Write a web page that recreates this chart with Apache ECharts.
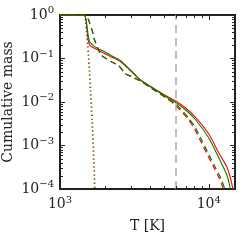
<!DOCTYPE html>
<html><head><meta charset="utf-8">
<script src="https://cdn.jsdelivr.net/npm/echarts@6/dist/echarts.min.js"></script>
<style>html,body{margin:0;padding:0;background:#fff}#c{width:250px;height:250px}</style>
</head><body><div id="c"></div>
<script>
// ---- data ----
const xMin = 1000, xMax = 15000, yMin = 1e-4, yMax = 1;
const vLineT = 6000;

const solidGreenT = [1000,1453,1487,1506,1546,1587,1671,1806,2005,2177,2543,2972,3472,4384,5122,5984,6991,8170,10000,11685,13230,13975,14083];
const solidGreenM = [1,0.984,0.853,0.690,0.347,0.239,0.201,0.168,0.141,0.120,0.090,0.0544,0.0320,0.0189,0.0134,0.00974,0.00655,0.00386,0.00149,0.000516,0.00021,0.0001,0.0000853];

const solidRedT = [1000,1453,1487,1506,1546,1587,1716,2005,2177,2543,2972,3472,4384,5122,5984,6991,8170,10000,11685,13230,13975,14527,14640];
const solidRedM = [1,0.984,0.831,0.621,0.266,0.201,0.170,0.129,0.111,0.0853,0.0530,0.0320,0.0194,0.0141,0.01054,0.00728,0.00440,0.00184,0.000672,0.000320,0.000179,0.0001,0.0000853];

const dashGreenT = [1000,1498,1546,1587,1671,1697,1792,1901,2055,2281,2466,2737,3032,3365,3472,4384,5122,5984,6470,7328,8170,9066,10047,11149,12054,12830,13026];
const dashGreenM = [1,0.984,0.822,0.631,0.372,0.285,0.174,0.1185,0.0990,0.0800,0.0698,0.0457,0.0382,0.0320,0.0304,0.0179,0.0127,0.0090,0.0069,0.00429,0.00249,0.00122,0.000605,0.000299,0.000176,0.0001,0.0000853];

const dashRedT = [1000,1498,1546,1587,1671,1697,1792,1901,2055,2281,2466,2737,3032,3365,3472,4384,5122,5846,6321,7157,7980,8857,9815,10894,11774,12531,12726];
const dashRedM = [1,0.984,0.822,0.631,0.372,0.285,0.174,0.1185,0.0990,0.0800,0.0698,0.0457,0.0382,0.0320,0.0304,0.0179,0.0127,0.0090,0.0069,0.00429,0.00249,0.00122,0.000605,0.000299,0.000176,0.0001,0.0000853];

const dotGreenT = [1000,1453,1475,1506,1529,1546,1570,1595,1637,1679,1705,1710];
const dotGreenM = [1,0.984,0.767,0.407,0.201,0.1185,0.0536,0.0189,0.00386,0.000464,0.000105,0.0000853];
const dotRedT = [1000,1453,1489,1520,1543,1561,1585,1610,1652,1695,1721,1726];
const dotRedM = [1,0.984,0.767,0.407,0.201,0.1185,0.0536,0.0189,0.00386,0.000464,0.000105,0.0000853];

const xMinorTicks = [2000,3000,4000,5000,6000,7000,8000,9000];
const yMinorTicks = [];
[1e-4,1e-3,1e-2,1e-1].forEach(d => { for (let k = 2; k <= 9; k++) yMinorTicks.push(+(d*k).toPrecision(3)); });

// ---- chart ----
const FONT = '"DejaVu Serif", "Liberation Serif", serif';
const AX = '#222';
const RED = '#ff0000', GREEN = '#008000';
const zip = (a, b) => a.map((v, i) => [v, b[i]]);

function fmt(v) {
  const e = Math.log10(v);
  const r = Math.round(e);
  if (Math.abs(e - r) > 1e-6) return '';
  return '{b|10}{s|' + (r < 0 ? '\u2212' + (-r) : r) + '}';
}
const rich = {
  b: { fontSize: 14, fontFamily: FONT, color: '#222' },
  s: { fontSize: 10, fontFamily: FONT, color: '#222', padding: [0, 0, 9, 0] }
};

function axisCommon(show) {
  return {
    type: 'log', logBase: 10,
    axisLine: { show: true, lineStyle: { color: AX, width: 2 } },
    axisTick: { show: true, inside: true, length: 5, lineStyle: { color: AX, width: 1 } },
    splitLine: { show: false },
    axisLabel: show ? { fontFamily: FONT, formatter: fmt, rich: rich, margin: 6 } : { show: false }
  };
}

function line(name, t, m, color, type, width) {
  return {
    name, type: 'line', data: zip(t, m), showSymbol: false, symbol: 'none',
    smooth: 0.25, clip: true, z: 3,
    lineStyle: { color, width, type }
  };
}

function tickSeries(data, isX) {
  return {
    type: 'custom', coordinateSystem: 'cartesian2d', data, silent: true, z: 10, clip: false,
    renderItem: function (params, api) {
      const cs = params.coordSys;
      const p = api.coord([api.value(0), api.value(1)]);
      const L = 3, st = { stroke: AX, lineWidth: 1 };
      if (isX) {
        const x = Math.round(p[0]) + 0.5, yb = cs.y + cs.height, yt = cs.y;
        return { type: 'group', children: [
          { type: 'line', shape: { x1: x, y1: yb, x2: x, y2: yb - L }, style: st },
          { type: 'line', shape: { x1: x, y1: yt, x2: x, y2: yt + L }, style: st }
        ]};
      } else {
        const y = Math.round(p[1]) + 0.5, xl = cs.x, xr = cs.x + cs.width;
        return { type: 'group', children: [
          { type: 'line', shape: { x1: xl, y1: y, x2: xl + L, y2: y }, style: st },
          { type: 'line', shape: { x1: xr, y1: y, x2: xr - L, y2: y }, style: st }
        ]};
      }
    }
  };
}

const chart = echarts.init(document.getElementById('c'), null, { renderer: 'canvas' });
chart.setOption({
  animation: false,
  backgroundColor: '#fff',
  grid: { left: 60, right: 15, top: 15, bottom: 61, containLabel: false, outerBoundsMode: 'none' },
  xAxis: [
    Object.assign(axisCommon(true), {
      min: xMin, max: xMax, position: 'bottom',
      name: 'T [K]', nameLocation: 'middle', nameGap: 30, nameMoveOverlap: false,
      nameTextStyle: { fontFamily: FONT, fontSize: 14, color: '#222' }
    }),
    Object.assign(axisCommon(false), { min: xMin, max: xMax, position: 'top' })
  ],
  yAxis: [
    Object.assign(axisCommon(true), {
      min: yMin, max: yMax, position: 'left',
      name: 'Cumulative mass', nameLocation: 'middle', nameGap: 45, nameMoveOverlap: false,
      nameTextStyle: { fontFamily: FONT, fontSize: 14, color: '#222' }
    }),
    Object.assign(axisCommon(false), { min: yMin, max: yMax, position: 'right' })
  ],
  series: [
    Object.assign(line('dotRed', dotRedT, dotRedM, RED, [1, 3], 1.3), {
      markLine: {
        silent: true, symbol: 'none', label: { show: false },
        lineStyle: { color: '#aaa', type: [8, 5], width: 1.5 },
        data: [{ xAxis: vLineT }]
      }
    }),
    line('dotGreen', dotGreenT, dotGreenM, GREEN, [1, 3], 1.3),
    line('dashRed', dashRedT, dashRedM, RED, [6, 4], 1.2),
    line('dashGreen', dashGreenT, dashGreenM, GREEN, [6, 4], 1.2),
    line('solidRed', solidRedT, solidRedM, RED, 'solid', 1.1),
    line('solidGreen', solidGreenT, solidGreenM, GREEN, 'solid', 1.1),
    tickSeries(xMinorTicks.map(v => [v, 1]), true),
    tickSeries(yMinorTicks.map(v => [1000, v]), false)
  ]
});
</script>
</body></html>
